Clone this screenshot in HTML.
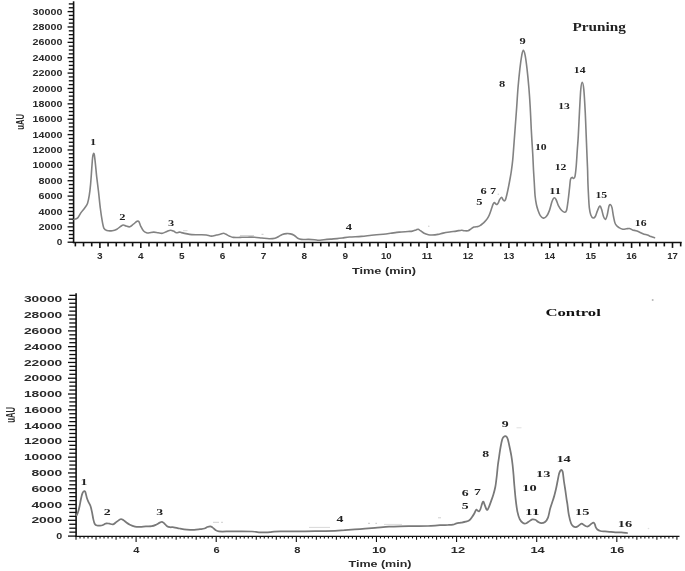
<!DOCTYPE html>
<html><head><meta charset="utf-8"><title>Chromatogram</title>
<style>html,body{margin:0;padding:0;background:#fff;width:685px;height:571px;overflow:hidden}</style>
</head><body>
<svg width="685" height="571" viewBox="0 0 685 571" style="display:block;filter:blur(0.4px)">
<rect width="685" height="571" fill="#fff"/>
<line x1="67.60" y1="242.20" x2="73.60" y2="242.20" stroke="#111" stroke-width="1.35"/>
<line x1="68.80" y1="238.36" x2="73.60" y2="238.36" stroke="#111" stroke-width="1.35"/>
<line x1="68.80" y1="234.51" x2="73.60" y2="234.51" stroke="#111" stroke-width="1.35"/>
<line x1="68.80" y1="230.67" x2="73.60" y2="230.67" stroke="#111" stroke-width="1.35"/>
<line x1="67.60" y1="226.83" x2="73.60" y2="226.83" stroke="#111" stroke-width="1.35"/>
<line x1="68.80" y1="222.98" x2="73.60" y2="222.98" stroke="#111" stroke-width="1.35"/>
<line x1="68.80" y1="219.14" x2="73.60" y2="219.14" stroke="#111" stroke-width="1.35"/>
<line x1="68.80" y1="215.30" x2="73.60" y2="215.30" stroke="#111" stroke-width="1.35"/>
<line x1="67.60" y1="211.45" x2="73.60" y2="211.45" stroke="#111" stroke-width="1.35"/>
<line x1="68.80" y1="207.61" x2="73.60" y2="207.61" stroke="#111" stroke-width="1.35"/>
<line x1="68.80" y1="203.77" x2="73.60" y2="203.77" stroke="#111" stroke-width="1.35"/>
<line x1="68.80" y1="199.92" x2="73.60" y2="199.92" stroke="#111" stroke-width="1.35"/>
<line x1="67.60" y1="196.08" x2="73.60" y2="196.08" stroke="#111" stroke-width="1.35"/>
<line x1="68.80" y1="192.24" x2="73.60" y2="192.24" stroke="#111" stroke-width="1.35"/>
<line x1="68.80" y1="188.39" x2="73.60" y2="188.39" stroke="#111" stroke-width="1.35"/>
<line x1="68.80" y1="184.55" x2="73.60" y2="184.55" stroke="#111" stroke-width="1.35"/>
<line x1="67.60" y1="180.71" x2="73.60" y2="180.71" stroke="#111" stroke-width="1.35"/>
<line x1="68.80" y1="176.86" x2="73.60" y2="176.86" stroke="#111" stroke-width="1.35"/>
<line x1="68.80" y1="173.02" x2="73.60" y2="173.02" stroke="#111" stroke-width="1.35"/>
<line x1="68.80" y1="169.18" x2="73.60" y2="169.18" stroke="#111" stroke-width="1.35"/>
<line x1="67.60" y1="165.33" x2="73.60" y2="165.33" stroke="#111" stroke-width="1.35"/>
<line x1="68.80" y1="161.49" x2="73.60" y2="161.49" stroke="#111" stroke-width="1.35"/>
<line x1="68.80" y1="157.65" x2="73.60" y2="157.65" stroke="#111" stroke-width="1.35"/>
<line x1="68.80" y1="153.80" x2="73.60" y2="153.80" stroke="#111" stroke-width="1.35"/>
<line x1="67.60" y1="149.96" x2="73.60" y2="149.96" stroke="#111" stroke-width="1.35"/>
<line x1="68.80" y1="146.12" x2="73.60" y2="146.12" stroke="#111" stroke-width="1.35"/>
<line x1="68.80" y1="142.27" x2="73.60" y2="142.27" stroke="#111" stroke-width="1.35"/>
<line x1="68.80" y1="138.43" x2="73.60" y2="138.43" stroke="#111" stroke-width="1.35"/>
<line x1="67.60" y1="134.59" x2="73.60" y2="134.59" stroke="#111" stroke-width="1.35"/>
<line x1="68.80" y1="130.74" x2="73.60" y2="130.74" stroke="#111" stroke-width="1.35"/>
<line x1="68.80" y1="126.90" x2="73.60" y2="126.90" stroke="#111" stroke-width="1.35"/>
<line x1="68.80" y1="123.06" x2="73.60" y2="123.06" stroke="#111" stroke-width="1.35"/>
<line x1="67.60" y1="119.21" x2="73.60" y2="119.21" stroke="#111" stroke-width="1.35"/>
<line x1="68.80" y1="115.37" x2="73.60" y2="115.37" stroke="#111" stroke-width="1.35"/>
<line x1="68.80" y1="111.53" x2="73.60" y2="111.53" stroke="#111" stroke-width="1.35"/>
<line x1="68.80" y1="107.68" x2="73.60" y2="107.68" stroke="#111" stroke-width="1.35"/>
<line x1="67.60" y1="103.84" x2="73.60" y2="103.84" stroke="#111" stroke-width="1.35"/>
<line x1="68.80" y1="100.00" x2="73.60" y2="100.00" stroke="#111" stroke-width="1.35"/>
<line x1="68.80" y1="96.15" x2="73.60" y2="96.15" stroke="#111" stroke-width="1.35"/>
<line x1="68.80" y1="92.31" x2="73.60" y2="92.31" stroke="#111" stroke-width="1.35"/>
<line x1="67.60" y1="88.47" x2="73.60" y2="88.47" stroke="#111" stroke-width="1.35"/>
<line x1="68.80" y1="84.62" x2="73.60" y2="84.62" stroke="#111" stroke-width="1.35"/>
<line x1="68.80" y1="80.78" x2="73.60" y2="80.78" stroke="#111" stroke-width="1.35"/>
<line x1="68.80" y1="76.94" x2="73.60" y2="76.94" stroke="#111" stroke-width="1.35"/>
<line x1="67.60" y1="73.09" x2="73.60" y2="73.09" stroke="#111" stroke-width="1.35"/>
<line x1="68.80" y1="69.25" x2="73.60" y2="69.25" stroke="#111" stroke-width="1.35"/>
<line x1="68.80" y1="65.41" x2="73.60" y2="65.41" stroke="#111" stroke-width="1.35"/>
<line x1="68.80" y1="61.56" x2="73.60" y2="61.56" stroke="#111" stroke-width="1.35"/>
<line x1="67.60" y1="57.72" x2="73.60" y2="57.72" stroke="#111" stroke-width="1.35"/>
<line x1="68.80" y1="53.88" x2="73.60" y2="53.88" stroke="#111" stroke-width="1.35"/>
<line x1="68.80" y1="50.03" x2="73.60" y2="50.03" stroke="#111" stroke-width="1.35"/>
<line x1="68.80" y1="46.19" x2="73.60" y2="46.19" stroke="#111" stroke-width="1.35"/>
<line x1="67.60" y1="42.35" x2="73.60" y2="42.35" stroke="#111" stroke-width="1.35"/>
<line x1="68.80" y1="38.50" x2="73.60" y2="38.50" stroke="#111" stroke-width="1.35"/>
<line x1="68.80" y1="34.66" x2="73.60" y2="34.66" stroke="#111" stroke-width="1.35"/>
<line x1="68.80" y1="30.82" x2="73.60" y2="30.82" stroke="#111" stroke-width="1.35"/>
<line x1="67.60" y1="26.97" x2="73.60" y2="26.97" stroke="#111" stroke-width="1.35"/>
<line x1="68.80" y1="23.13" x2="73.60" y2="23.13" stroke="#111" stroke-width="1.35"/>
<line x1="68.80" y1="19.29" x2="73.60" y2="19.29" stroke="#111" stroke-width="1.35"/>
<line x1="68.80" y1="15.44" x2="73.60" y2="15.44" stroke="#111" stroke-width="1.35"/>
<line x1="67.60" y1="11.60" x2="73.60" y2="11.60" stroke="#111" stroke-width="1.35"/>
<line x1="68.80" y1="7.76" x2="73.60" y2="7.76" stroke="#111" stroke-width="1.35"/>
<line x1="68.80" y1="3.91" x2="73.60" y2="3.91" stroke="#111" stroke-width="1.35"/>
<text transform="translate(59.60,245.31) scale(1.0,1)" font-family="Liberation Sans" font-weight="bold" font-size="8.7" fill="#2a2a2a" text-anchor="middle" textLength="5.60" lengthAdjust="spacingAndGlyphs">0</text>
<text transform="translate(50.40,229.94) scale(1.0,1)" font-family="Liberation Sans" font-weight="bold" font-size="8.7" fill="#2a2a2a" text-anchor="middle" textLength="24.00" lengthAdjust="spacingAndGlyphs">2000</text>
<text transform="translate(50.40,214.57) scale(1.0,1)" font-family="Liberation Sans" font-weight="bold" font-size="8.7" fill="#2a2a2a" text-anchor="middle" textLength="24.00" lengthAdjust="spacingAndGlyphs">4000</text>
<text transform="translate(50.40,199.19) scale(1.0,1)" font-family="Liberation Sans" font-weight="bold" font-size="8.7" fill="#2a2a2a" text-anchor="middle" textLength="24.00" lengthAdjust="spacingAndGlyphs">6000</text>
<text transform="translate(50.40,183.82) scale(1.0,1)" font-family="Liberation Sans" font-weight="bold" font-size="8.7" fill="#2a2a2a" text-anchor="middle" textLength="24.00" lengthAdjust="spacingAndGlyphs">8000</text>
<text transform="translate(47.50,168.45) scale(1.0,1)" font-family="Liberation Sans" font-weight="bold" font-size="8.7" fill="#2a2a2a" text-anchor="middle" textLength="29.80" lengthAdjust="spacingAndGlyphs">10000</text>
<text transform="translate(47.50,153.07) scale(1.0,1)" font-family="Liberation Sans" font-weight="bold" font-size="8.7" fill="#2a2a2a" text-anchor="middle" textLength="29.80" lengthAdjust="spacingAndGlyphs">12000</text>
<text transform="translate(47.50,137.70) scale(1.0,1)" font-family="Liberation Sans" font-weight="bold" font-size="8.7" fill="#2a2a2a" text-anchor="middle" textLength="29.80" lengthAdjust="spacingAndGlyphs">14000</text>
<text transform="translate(47.50,122.33) scale(1.0,1)" font-family="Liberation Sans" font-weight="bold" font-size="8.7" fill="#2a2a2a" text-anchor="middle" textLength="29.80" lengthAdjust="spacingAndGlyphs">16000</text>
<text transform="translate(47.50,106.95) scale(1.0,1)" font-family="Liberation Sans" font-weight="bold" font-size="8.7" fill="#2a2a2a" text-anchor="middle" textLength="29.80" lengthAdjust="spacingAndGlyphs">18000</text>
<text transform="translate(47.50,91.58) scale(1.0,1)" font-family="Liberation Sans" font-weight="bold" font-size="8.7" fill="#2a2a2a" text-anchor="middle" textLength="29.80" lengthAdjust="spacingAndGlyphs">20000</text>
<text transform="translate(47.50,76.21) scale(1.0,1)" font-family="Liberation Sans" font-weight="bold" font-size="8.7" fill="#2a2a2a" text-anchor="middle" textLength="29.80" lengthAdjust="spacingAndGlyphs">22000</text>
<text transform="translate(47.50,60.83) scale(1.0,1)" font-family="Liberation Sans" font-weight="bold" font-size="8.7" fill="#2a2a2a" text-anchor="middle" textLength="29.80" lengthAdjust="spacingAndGlyphs">24000</text>
<text transform="translate(47.50,45.46) scale(1.0,1)" font-family="Liberation Sans" font-weight="bold" font-size="8.7" fill="#2a2a2a" text-anchor="middle" textLength="29.80" lengthAdjust="spacingAndGlyphs">26000</text>
<text transform="translate(47.50,30.09) scale(1.0,1)" font-family="Liberation Sans" font-weight="bold" font-size="8.7" fill="#2a2a2a" text-anchor="middle" textLength="29.80" lengthAdjust="spacingAndGlyphs">28000</text>
<text transform="translate(47.50,14.71) scale(1.0,1)" font-family="Liberation Sans" font-weight="bold" font-size="8.7" fill="#2a2a2a" text-anchor="middle" textLength="29.80" lengthAdjust="spacingAndGlyphs">30000</text>
<line x1="75.36" y1="242.50" x2="75.36" y2="246.40" stroke="#111" stroke-width="1.6"/>
<line x1="83.54" y1="242.50" x2="83.54" y2="246.40" stroke="#111" stroke-width="1.6"/>
<line x1="91.72" y1="242.50" x2="91.72" y2="246.40" stroke="#111" stroke-width="1.6"/>
<line x1="99.90" y1="242.50" x2="99.90" y2="247.90" stroke="#111" stroke-width="1.6"/>
<line x1="108.08" y1="242.50" x2="108.08" y2="246.40" stroke="#111" stroke-width="1.6"/>
<line x1="116.26" y1="242.50" x2="116.26" y2="246.40" stroke="#111" stroke-width="1.6"/>
<line x1="124.44" y1="242.50" x2="124.44" y2="246.40" stroke="#111" stroke-width="1.6"/>
<line x1="132.62" y1="242.50" x2="132.62" y2="246.40" stroke="#111" stroke-width="1.6"/>
<line x1="140.80" y1="242.50" x2="140.80" y2="247.90" stroke="#111" stroke-width="1.6"/>
<line x1="148.98" y1="242.50" x2="148.98" y2="246.40" stroke="#111" stroke-width="1.6"/>
<line x1="157.16" y1="242.50" x2="157.16" y2="246.40" stroke="#111" stroke-width="1.6"/>
<line x1="165.34" y1="242.50" x2="165.34" y2="246.40" stroke="#111" stroke-width="1.6"/>
<line x1="173.52" y1="242.50" x2="173.52" y2="246.40" stroke="#111" stroke-width="1.6"/>
<line x1="181.70" y1="242.50" x2="181.70" y2="247.90" stroke="#111" stroke-width="1.6"/>
<line x1="189.88" y1="242.50" x2="189.88" y2="246.40" stroke="#111" stroke-width="1.6"/>
<line x1="198.06" y1="242.50" x2="198.06" y2="246.40" stroke="#111" stroke-width="1.6"/>
<line x1="206.24" y1="242.50" x2="206.24" y2="246.40" stroke="#111" stroke-width="1.6"/>
<line x1="214.42" y1="242.50" x2="214.42" y2="246.40" stroke="#111" stroke-width="1.6"/>
<line x1="222.60" y1="242.50" x2="222.60" y2="247.90" stroke="#111" stroke-width="1.6"/>
<line x1="230.78" y1="242.50" x2="230.78" y2="246.40" stroke="#111" stroke-width="1.6"/>
<line x1="238.96" y1="242.50" x2="238.96" y2="246.40" stroke="#111" stroke-width="1.6"/>
<line x1="247.14" y1="242.50" x2="247.14" y2="246.40" stroke="#111" stroke-width="1.6"/>
<line x1="255.32" y1="242.50" x2="255.32" y2="246.40" stroke="#111" stroke-width="1.6"/>
<line x1="263.50" y1="242.50" x2="263.50" y2="247.90" stroke="#111" stroke-width="1.6"/>
<line x1="271.68" y1="242.50" x2="271.68" y2="246.40" stroke="#111" stroke-width="1.6"/>
<line x1="279.86" y1="242.50" x2="279.86" y2="246.40" stroke="#111" stroke-width="1.6"/>
<line x1="288.04" y1="242.50" x2="288.04" y2="246.40" stroke="#111" stroke-width="1.6"/>
<line x1="296.22" y1="242.50" x2="296.22" y2="246.40" stroke="#111" stroke-width="1.6"/>
<line x1="304.40" y1="242.50" x2="304.40" y2="247.90" stroke="#111" stroke-width="1.6"/>
<line x1="312.58" y1="242.50" x2="312.58" y2="246.40" stroke="#111" stroke-width="1.6"/>
<line x1="320.76" y1="242.50" x2="320.76" y2="246.40" stroke="#111" stroke-width="1.6"/>
<line x1="328.94" y1="242.50" x2="328.94" y2="246.40" stroke="#111" stroke-width="1.6"/>
<line x1="337.12" y1="242.50" x2="337.12" y2="246.40" stroke="#111" stroke-width="1.6"/>
<line x1="345.30" y1="242.50" x2="345.30" y2="247.90" stroke="#111" stroke-width="1.6"/>
<line x1="353.48" y1="242.50" x2="353.48" y2="246.40" stroke="#111" stroke-width="1.6"/>
<line x1="361.66" y1="242.50" x2="361.66" y2="246.40" stroke="#111" stroke-width="1.6"/>
<line x1="369.84" y1="242.50" x2="369.84" y2="246.40" stroke="#111" stroke-width="1.6"/>
<line x1="378.02" y1="242.50" x2="378.02" y2="246.40" stroke="#111" stroke-width="1.6"/>
<line x1="386.20" y1="242.50" x2="386.20" y2="247.90" stroke="#111" stroke-width="1.6"/>
<line x1="394.38" y1="242.50" x2="394.38" y2="246.40" stroke="#111" stroke-width="1.6"/>
<line x1="402.56" y1="242.50" x2="402.56" y2="246.40" stroke="#111" stroke-width="1.6"/>
<line x1="410.74" y1="242.50" x2="410.74" y2="246.40" stroke="#111" stroke-width="1.6"/>
<line x1="418.92" y1="242.50" x2="418.92" y2="246.40" stroke="#111" stroke-width="1.6"/>
<line x1="427.10" y1="242.50" x2="427.10" y2="247.90" stroke="#111" stroke-width="1.6"/>
<line x1="435.28" y1="242.50" x2="435.28" y2="246.40" stroke="#111" stroke-width="1.6"/>
<line x1="443.46" y1="242.50" x2="443.46" y2="246.40" stroke="#111" stroke-width="1.6"/>
<line x1="451.64" y1="242.50" x2="451.64" y2="246.40" stroke="#111" stroke-width="1.6"/>
<line x1="459.82" y1="242.50" x2="459.82" y2="246.40" stroke="#111" stroke-width="1.6"/>
<line x1="468.00" y1="242.50" x2="468.00" y2="247.90" stroke="#111" stroke-width="1.6"/>
<line x1="476.18" y1="242.50" x2="476.18" y2="246.40" stroke="#111" stroke-width="1.6"/>
<line x1="484.36" y1="242.50" x2="484.36" y2="246.40" stroke="#111" stroke-width="1.6"/>
<line x1="492.54" y1="242.50" x2="492.54" y2="246.40" stroke="#111" stroke-width="1.6"/>
<line x1="500.72" y1="242.50" x2="500.72" y2="246.40" stroke="#111" stroke-width="1.6"/>
<line x1="508.90" y1="242.50" x2="508.90" y2="247.90" stroke="#111" stroke-width="1.6"/>
<line x1="517.08" y1="242.50" x2="517.08" y2="246.40" stroke="#111" stroke-width="1.6"/>
<line x1="525.26" y1="242.50" x2="525.26" y2="246.40" stroke="#111" stroke-width="1.6"/>
<line x1="533.44" y1="242.50" x2="533.44" y2="246.40" stroke="#111" stroke-width="1.6"/>
<line x1="541.62" y1="242.50" x2="541.62" y2="246.40" stroke="#111" stroke-width="1.6"/>
<line x1="549.80" y1="242.50" x2="549.80" y2="247.90" stroke="#111" stroke-width="1.6"/>
<line x1="557.98" y1="242.50" x2="557.98" y2="246.40" stroke="#111" stroke-width="1.6"/>
<line x1="566.16" y1="242.50" x2="566.16" y2="246.40" stroke="#111" stroke-width="1.6"/>
<line x1="574.34" y1="242.50" x2="574.34" y2="246.40" stroke="#111" stroke-width="1.6"/>
<line x1="582.52" y1="242.50" x2="582.52" y2="246.40" stroke="#111" stroke-width="1.6"/>
<line x1="590.70" y1="242.50" x2="590.70" y2="247.90" stroke="#111" stroke-width="1.6"/>
<line x1="598.88" y1="242.50" x2="598.88" y2="246.40" stroke="#111" stroke-width="1.6"/>
<line x1="607.06" y1="242.50" x2="607.06" y2="246.40" stroke="#111" stroke-width="1.6"/>
<line x1="615.24" y1="242.50" x2="615.24" y2="246.40" stroke="#111" stroke-width="1.6"/>
<line x1="623.42" y1="242.50" x2="623.42" y2="246.40" stroke="#111" stroke-width="1.6"/>
<line x1="631.60" y1="242.50" x2="631.60" y2="247.90" stroke="#111" stroke-width="1.6"/>
<line x1="639.78" y1="242.50" x2="639.78" y2="246.40" stroke="#111" stroke-width="1.6"/>
<line x1="647.96" y1="242.50" x2="647.96" y2="246.40" stroke="#111" stroke-width="1.6"/>
<line x1="656.14" y1="242.50" x2="656.14" y2="246.40" stroke="#111" stroke-width="1.6"/>
<line x1="664.32" y1="242.50" x2="664.32" y2="246.40" stroke="#111" stroke-width="1.6"/>
<line x1="672.50" y1="242.50" x2="672.50" y2="247.90" stroke="#111" stroke-width="1.6"/>
<line x1="680.68" y1="242.50" x2="680.68" y2="246.40" stroke="#111" stroke-width="1.6"/>
<text transform="translate(99.90,258.51) scale(1.0,1)" font-family="Liberation Sans" font-weight="bold" font-size="8.4" fill="#2a2a2a" text-anchor="middle" textLength="5.60" lengthAdjust="spacingAndGlyphs">3</text>
<text transform="translate(140.80,258.51) scale(1.0,1)" font-family="Liberation Sans" font-weight="bold" font-size="8.4" fill="#2a2a2a" text-anchor="middle" textLength="5.60" lengthAdjust="spacingAndGlyphs">4</text>
<text transform="translate(181.70,258.51) scale(1.0,1)" font-family="Liberation Sans" font-weight="bold" font-size="8.4" fill="#2a2a2a" text-anchor="middle" textLength="5.60" lengthAdjust="spacingAndGlyphs">5</text>
<text transform="translate(222.60,258.51) scale(1.0,1)" font-family="Liberation Sans" font-weight="bold" font-size="8.4" fill="#2a2a2a" text-anchor="middle" textLength="5.60" lengthAdjust="spacingAndGlyphs">6</text>
<text transform="translate(263.50,258.51) scale(1.0,1)" font-family="Liberation Sans" font-weight="bold" font-size="8.4" fill="#2a2a2a" text-anchor="middle" textLength="5.60" lengthAdjust="spacingAndGlyphs">7</text>
<text transform="translate(304.40,258.51) scale(1.0,1)" font-family="Liberation Sans" font-weight="bold" font-size="8.4" fill="#2a2a2a" text-anchor="middle" textLength="5.60" lengthAdjust="spacingAndGlyphs">8</text>
<text transform="translate(345.30,258.51) scale(1.0,1)" font-family="Liberation Sans" font-weight="bold" font-size="8.4" fill="#2a2a2a" text-anchor="middle" textLength="5.60" lengthAdjust="spacingAndGlyphs">9</text>
<text transform="translate(386.20,258.51) scale(1.0,1)" font-family="Liberation Sans" font-weight="bold" font-size="8.4" fill="#2a2a2a" text-anchor="middle" textLength="10.60" lengthAdjust="spacingAndGlyphs">10</text>
<text transform="translate(427.10,258.51) scale(1.0,1)" font-family="Liberation Sans" font-weight="bold" font-size="8.4" fill="#2a2a2a" text-anchor="middle" textLength="10.60" lengthAdjust="spacingAndGlyphs">11</text>
<text transform="translate(468.00,258.51) scale(1.0,1)" font-family="Liberation Sans" font-weight="bold" font-size="8.4" fill="#2a2a2a" text-anchor="middle" textLength="10.60" lengthAdjust="spacingAndGlyphs">12</text>
<text transform="translate(508.90,258.51) scale(1.0,1)" font-family="Liberation Sans" font-weight="bold" font-size="8.4" fill="#2a2a2a" text-anchor="middle" textLength="10.60" lengthAdjust="spacingAndGlyphs">13</text>
<text transform="translate(549.80,258.51) scale(1.0,1)" font-family="Liberation Sans" font-weight="bold" font-size="8.4" fill="#2a2a2a" text-anchor="middle" textLength="10.60" lengthAdjust="spacingAndGlyphs">14</text>
<text transform="translate(590.70,258.51) scale(1.0,1)" font-family="Liberation Sans" font-weight="bold" font-size="8.4" fill="#2a2a2a" text-anchor="middle" textLength="10.60" lengthAdjust="spacingAndGlyphs">15</text>
<text transform="translate(631.60,258.51) scale(1.0,1)" font-family="Liberation Sans" font-weight="bold" font-size="8.4" fill="#2a2a2a" text-anchor="middle" textLength="10.60" lengthAdjust="spacingAndGlyphs">16</text>
<text transform="translate(672.50,258.51) scale(1.0,1)" font-family="Liberation Sans" font-weight="bold" font-size="8.4" fill="#2a2a2a" text-anchor="middle" textLength="10.60" lengthAdjust="spacingAndGlyphs">17</text>
<line x1="73.60" y1="1.30" x2="73.60" y2="243.10" stroke="#111" stroke-width="1.6"/>
<line x1="72.80" y1="242.50" x2="681.70" y2="242.50" stroke="#111" stroke-width="1.4"/>
<line x1="68.00" y1="536.10" x2="76.10" y2="536.10" stroke="#111" stroke-width="1.3"/>
<line x1="69.30" y1="532.15" x2="76.10" y2="532.15" stroke="#111" stroke-width="1.3"/>
<line x1="69.30" y1="528.21" x2="76.10" y2="528.21" stroke="#111" stroke-width="1.3"/>
<line x1="69.30" y1="524.26" x2="76.10" y2="524.26" stroke="#111" stroke-width="1.3"/>
<line x1="68.00" y1="520.31" x2="76.10" y2="520.31" stroke="#111" stroke-width="1.3"/>
<line x1="69.30" y1="516.37" x2="76.10" y2="516.37" stroke="#111" stroke-width="1.3"/>
<line x1="69.30" y1="512.42" x2="76.10" y2="512.42" stroke="#111" stroke-width="1.3"/>
<line x1="69.30" y1="508.47" x2="76.10" y2="508.47" stroke="#111" stroke-width="1.3"/>
<line x1="68.00" y1="504.53" x2="76.10" y2="504.53" stroke="#111" stroke-width="1.3"/>
<line x1="69.30" y1="500.58" x2="76.10" y2="500.58" stroke="#111" stroke-width="1.3"/>
<line x1="69.30" y1="496.63" x2="76.10" y2="496.63" stroke="#111" stroke-width="1.3"/>
<line x1="69.30" y1="492.69" x2="76.10" y2="492.69" stroke="#111" stroke-width="1.3"/>
<line x1="68.00" y1="488.74" x2="76.10" y2="488.74" stroke="#111" stroke-width="1.3"/>
<line x1="69.30" y1="484.79" x2="76.10" y2="484.79" stroke="#111" stroke-width="1.3"/>
<line x1="69.30" y1="480.85" x2="76.10" y2="480.85" stroke="#111" stroke-width="1.3"/>
<line x1="69.30" y1="476.90" x2="76.10" y2="476.90" stroke="#111" stroke-width="1.3"/>
<line x1="68.00" y1="472.95" x2="76.10" y2="472.95" stroke="#111" stroke-width="1.3"/>
<line x1="69.30" y1="469.01" x2="76.10" y2="469.01" stroke="#111" stroke-width="1.3"/>
<line x1="69.30" y1="465.06" x2="76.10" y2="465.06" stroke="#111" stroke-width="1.3"/>
<line x1="69.30" y1="461.11" x2="76.10" y2="461.11" stroke="#111" stroke-width="1.3"/>
<line x1="68.00" y1="457.17" x2="76.10" y2="457.17" stroke="#111" stroke-width="1.3"/>
<line x1="69.30" y1="453.22" x2="76.10" y2="453.22" stroke="#111" stroke-width="1.3"/>
<line x1="69.30" y1="449.27" x2="76.10" y2="449.27" stroke="#111" stroke-width="1.3"/>
<line x1="69.30" y1="445.33" x2="76.10" y2="445.33" stroke="#111" stroke-width="1.3"/>
<line x1="68.00" y1="441.38" x2="76.10" y2="441.38" stroke="#111" stroke-width="1.3"/>
<line x1="69.30" y1="437.43" x2="76.10" y2="437.43" stroke="#111" stroke-width="1.3"/>
<line x1="69.30" y1="433.49" x2="76.10" y2="433.49" stroke="#111" stroke-width="1.3"/>
<line x1="69.30" y1="429.54" x2="76.10" y2="429.54" stroke="#111" stroke-width="1.3"/>
<line x1="68.00" y1="425.59" x2="76.10" y2="425.59" stroke="#111" stroke-width="1.3"/>
<line x1="69.30" y1="421.65" x2="76.10" y2="421.65" stroke="#111" stroke-width="1.3"/>
<line x1="69.30" y1="417.70" x2="76.10" y2="417.70" stroke="#111" stroke-width="1.3"/>
<line x1="69.30" y1="413.75" x2="76.10" y2="413.75" stroke="#111" stroke-width="1.3"/>
<line x1="68.00" y1="409.81" x2="76.10" y2="409.81" stroke="#111" stroke-width="1.3"/>
<line x1="69.30" y1="405.86" x2="76.10" y2="405.86" stroke="#111" stroke-width="1.3"/>
<line x1="69.30" y1="401.91" x2="76.10" y2="401.91" stroke="#111" stroke-width="1.3"/>
<line x1="69.30" y1="397.97" x2="76.10" y2="397.97" stroke="#111" stroke-width="1.3"/>
<line x1="68.00" y1="394.02" x2="76.10" y2="394.02" stroke="#111" stroke-width="1.3"/>
<line x1="69.30" y1="390.07" x2="76.10" y2="390.07" stroke="#111" stroke-width="1.3"/>
<line x1="69.30" y1="386.13" x2="76.10" y2="386.13" stroke="#111" stroke-width="1.3"/>
<line x1="69.30" y1="382.18" x2="76.10" y2="382.18" stroke="#111" stroke-width="1.3"/>
<line x1="68.00" y1="378.23" x2="76.10" y2="378.23" stroke="#111" stroke-width="1.3"/>
<line x1="69.30" y1="374.29" x2="76.10" y2="374.29" stroke="#111" stroke-width="1.3"/>
<line x1="69.30" y1="370.34" x2="76.10" y2="370.34" stroke="#111" stroke-width="1.3"/>
<line x1="69.30" y1="366.39" x2="76.10" y2="366.39" stroke="#111" stroke-width="1.3"/>
<line x1="68.00" y1="362.45" x2="76.10" y2="362.45" stroke="#111" stroke-width="1.3"/>
<line x1="69.30" y1="358.50" x2="76.10" y2="358.50" stroke="#111" stroke-width="1.3"/>
<line x1="69.30" y1="354.55" x2="76.10" y2="354.55" stroke="#111" stroke-width="1.3"/>
<line x1="69.30" y1="350.61" x2="76.10" y2="350.61" stroke="#111" stroke-width="1.3"/>
<line x1="68.00" y1="346.66" x2="76.10" y2="346.66" stroke="#111" stroke-width="1.3"/>
<line x1="69.30" y1="342.71" x2="76.10" y2="342.71" stroke="#111" stroke-width="1.3"/>
<line x1="69.30" y1="338.77" x2="76.10" y2="338.77" stroke="#111" stroke-width="1.3"/>
<line x1="69.30" y1="334.82" x2="76.10" y2="334.82" stroke="#111" stroke-width="1.3"/>
<line x1="68.00" y1="330.87" x2="76.10" y2="330.87" stroke="#111" stroke-width="1.3"/>
<line x1="69.30" y1="326.93" x2="76.10" y2="326.93" stroke="#111" stroke-width="1.3"/>
<line x1="69.30" y1="322.98" x2="76.10" y2="322.98" stroke="#111" stroke-width="1.3"/>
<line x1="69.30" y1="319.03" x2="76.10" y2="319.03" stroke="#111" stroke-width="1.3"/>
<line x1="68.00" y1="315.09" x2="76.10" y2="315.09" stroke="#111" stroke-width="1.3"/>
<line x1="69.30" y1="311.14" x2="76.10" y2="311.14" stroke="#111" stroke-width="1.3"/>
<line x1="69.30" y1="307.19" x2="76.10" y2="307.19" stroke="#111" stroke-width="1.3"/>
<line x1="69.30" y1="303.25" x2="76.10" y2="303.25" stroke="#111" stroke-width="1.3"/>
<line x1="68.00" y1="299.30" x2="76.10" y2="299.30" stroke="#111" stroke-width="1.3"/>
<line x1="69.30" y1="295.35" x2="76.10" y2="295.35" stroke="#111" stroke-width="1.3"/>
<text transform="translate(59.20,539.21) scale(1.0,1)" font-family="Liberation Sans" font-weight="bold" font-size="8.7" fill="#2a2a2a" text-anchor="middle" textLength="6.00" lengthAdjust="spacingAndGlyphs">0</text>
<text transform="translate(46.80,523.43) scale(1.0,1)" font-family="Liberation Sans" font-weight="bold" font-size="8.7" fill="#2a2a2a" text-anchor="middle" textLength="30.80" lengthAdjust="spacingAndGlyphs">2000</text>
<text transform="translate(46.80,507.64) scale(1.0,1)" font-family="Liberation Sans" font-weight="bold" font-size="8.7" fill="#2a2a2a" text-anchor="middle" textLength="30.80" lengthAdjust="spacingAndGlyphs">4000</text>
<text transform="translate(46.80,491.85) scale(1.0,1)" font-family="Liberation Sans" font-weight="bold" font-size="8.7" fill="#2a2a2a" text-anchor="middle" textLength="30.80" lengthAdjust="spacingAndGlyphs">6000</text>
<text transform="translate(46.80,476.07) scale(1.0,1)" font-family="Liberation Sans" font-weight="bold" font-size="8.7" fill="#2a2a2a" text-anchor="middle" textLength="30.80" lengthAdjust="spacingAndGlyphs">8000</text>
<text transform="translate(43.05,460.28) scale(1.0,1)" font-family="Liberation Sans" font-weight="bold" font-size="8.7" fill="#2a2a2a" text-anchor="middle" textLength="38.30" lengthAdjust="spacingAndGlyphs">10000</text>
<text transform="translate(43.05,444.49) scale(1.0,1)" font-family="Liberation Sans" font-weight="bold" font-size="8.7" fill="#2a2a2a" text-anchor="middle" textLength="38.30" lengthAdjust="spacingAndGlyphs">12000</text>
<text transform="translate(43.05,428.71) scale(1.0,1)" font-family="Liberation Sans" font-weight="bold" font-size="8.7" fill="#2a2a2a" text-anchor="middle" textLength="38.30" lengthAdjust="spacingAndGlyphs">14000</text>
<text transform="translate(43.05,412.92) scale(1.0,1)" font-family="Liberation Sans" font-weight="bold" font-size="8.7" fill="#2a2a2a" text-anchor="middle" textLength="38.30" lengthAdjust="spacingAndGlyphs">16000</text>
<text transform="translate(43.05,397.13) scale(1.0,1)" font-family="Liberation Sans" font-weight="bold" font-size="8.7" fill="#2a2a2a" text-anchor="middle" textLength="38.30" lengthAdjust="spacingAndGlyphs">18000</text>
<text transform="translate(43.05,381.35) scale(1.0,1)" font-family="Liberation Sans" font-weight="bold" font-size="8.7" fill="#2a2a2a" text-anchor="middle" textLength="38.30" lengthAdjust="spacingAndGlyphs">20000</text>
<text transform="translate(43.05,365.56) scale(1.0,1)" font-family="Liberation Sans" font-weight="bold" font-size="8.7" fill="#2a2a2a" text-anchor="middle" textLength="38.30" lengthAdjust="spacingAndGlyphs">22000</text>
<text transform="translate(43.05,349.77) scale(1.0,1)" font-family="Liberation Sans" font-weight="bold" font-size="8.7" fill="#2a2a2a" text-anchor="middle" textLength="38.30" lengthAdjust="spacingAndGlyphs">24000</text>
<text transform="translate(43.05,333.99) scale(1.0,1)" font-family="Liberation Sans" font-weight="bold" font-size="8.7" fill="#2a2a2a" text-anchor="middle" textLength="38.30" lengthAdjust="spacingAndGlyphs">26000</text>
<text transform="translate(43.05,318.20) scale(1.0,1)" font-family="Liberation Sans" font-weight="bold" font-size="8.7" fill="#2a2a2a" text-anchor="middle" textLength="38.30" lengthAdjust="spacingAndGlyphs">28000</text>
<text transform="translate(43.05,302.41) scale(1.0,1)" font-family="Liberation Sans" font-weight="bold" font-size="8.7" fill="#2a2a2a" text-anchor="middle" textLength="38.30" lengthAdjust="spacingAndGlyphs">30000</text>
<line x1="76.01" y1="536.40" x2="76.01" y2="539.80" stroke="#111" stroke-width="1.1"/>
<line x1="80.02" y1="536.40" x2="80.02" y2="538.40" stroke="#111" stroke-width="1.1"/>
<line x1="84.02" y1="536.40" x2="84.02" y2="538.40" stroke="#111" stroke-width="1.1"/>
<line x1="88.03" y1="536.40" x2="88.03" y2="538.40" stroke="#111" stroke-width="1.1"/>
<line x1="92.03" y1="536.40" x2="92.03" y2="538.40" stroke="#111" stroke-width="1.1"/>
<line x1="96.04" y1="536.40" x2="96.04" y2="539.80" stroke="#111" stroke-width="1.1"/>
<line x1="100.05" y1="536.40" x2="100.05" y2="538.40" stroke="#111" stroke-width="1.1"/>
<line x1="104.05" y1="536.40" x2="104.05" y2="538.40" stroke="#111" stroke-width="1.1"/>
<line x1="108.06" y1="536.40" x2="108.06" y2="538.40" stroke="#111" stroke-width="1.1"/>
<line x1="112.06" y1="536.40" x2="112.06" y2="538.40" stroke="#111" stroke-width="1.1"/>
<line x1="116.07" y1="536.40" x2="116.07" y2="539.80" stroke="#111" stroke-width="1.1"/>
<line x1="120.08" y1="536.40" x2="120.08" y2="538.40" stroke="#111" stroke-width="1.1"/>
<line x1="124.08" y1="536.40" x2="124.08" y2="538.40" stroke="#111" stroke-width="1.1"/>
<line x1="128.09" y1="536.40" x2="128.09" y2="538.40" stroke="#111" stroke-width="1.1"/>
<line x1="132.09" y1="536.40" x2="132.09" y2="538.40" stroke="#111" stroke-width="1.1"/>
<line x1="136.10" y1="536.40" x2="136.10" y2="542.00" stroke="#111" stroke-width="1.1"/>
<line x1="140.11" y1="536.40" x2="140.11" y2="538.40" stroke="#111" stroke-width="1.1"/>
<line x1="144.11" y1="536.40" x2="144.11" y2="538.40" stroke="#111" stroke-width="1.1"/>
<line x1="148.12" y1="536.40" x2="148.12" y2="538.40" stroke="#111" stroke-width="1.1"/>
<line x1="152.12" y1="536.40" x2="152.12" y2="538.40" stroke="#111" stroke-width="1.1"/>
<line x1="156.13" y1="536.40" x2="156.13" y2="539.80" stroke="#111" stroke-width="1.1"/>
<line x1="160.14" y1="536.40" x2="160.14" y2="538.40" stroke="#111" stroke-width="1.1"/>
<line x1="164.14" y1="536.40" x2="164.14" y2="538.40" stroke="#111" stroke-width="1.1"/>
<line x1="168.15" y1="536.40" x2="168.15" y2="538.40" stroke="#111" stroke-width="1.1"/>
<line x1="172.15" y1="536.40" x2="172.15" y2="538.40" stroke="#111" stroke-width="1.1"/>
<line x1="176.16" y1="536.40" x2="176.16" y2="539.80" stroke="#111" stroke-width="1.1"/>
<line x1="180.17" y1="536.40" x2="180.17" y2="538.40" stroke="#111" stroke-width="1.1"/>
<line x1="184.17" y1="536.40" x2="184.17" y2="538.40" stroke="#111" stroke-width="1.1"/>
<line x1="188.18" y1="536.40" x2="188.18" y2="538.40" stroke="#111" stroke-width="1.1"/>
<line x1="192.18" y1="536.40" x2="192.18" y2="538.40" stroke="#111" stroke-width="1.1"/>
<line x1="196.19" y1="536.40" x2="196.19" y2="539.80" stroke="#111" stroke-width="1.1"/>
<line x1="200.20" y1="536.40" x2="200.20" y2="538.40" stroke="#111" stroke-width="1.1"/>
<line x1="204.20" y1="536.40" x2="204.20" y2="538.40" stroke="#111" stroke-width="1.1"/>
<line x1="208.21" y1="536.40" x2="208.21" y2="538.40" stroke="#111" stroke-width="1.1"/>
<line x1="212.21" y1="536.40" x2="212.21" y2="538.40" stroke="#111" stroke-width="1.1"/>
<line x1="216.22" y1="536.40" x2="216.22" y2="542.00" stroke="#111" stroke-width="1.1"/>
<line x1="220.23" y1="536.40" x2="220.23" y2="538.40" stroke="#111" stroke-width="1.1"/>
<line x1="224.23" y1="536.40" x2="224.23" y2="538.40" stroke="#111" stroke-width="1.1"/>
<line x1="228.24" y1="536.40" x2="228.24" y2="538.40" stroke="#111" stroke-width="1.1"/>
<line x1="232.24" y1="536.40" x2="232.24" y2="538.40" stroke="#111" stroke-width="1.1"/>
<line x1="236.25" y1="536.40" x2="236.25" y2="539.80" stroke="#111" stroke-width="1.1"/>
<line x1="240.26" y1="536.40" x2="240.26" y2="538.40" stroke="#111" stroke-width="1.1"/>
<line x1="244.26" y1="536.40" x2="244.26" y2="538.40" stroke="#111" stroke-width="1.1"/>
<line x1="248.27" y1="536.40" x2="248.27" y2="538.40" stroke="#111" stroke-width="1.1"/>
<line x1="252.27" y1="536.40" x2="252.27" y2="538.40" stroke="#111" stroke-width="1.1"/>
<line x1="256.28" y1="536.40" x2="256.28" y2="539.80" stroke="#111" stroke-width="1.1"/>
<line x1="260.29" y1="536.40" x2="260.29" y2="538.40" stroke="#111" stroke-width="1.1"/>
<line x1="264.29" y1="536.40" x2="264.29" y2="538.40" stroke="#111" stroke-width="1.1"/>
<line x1="268.30" y1="536.40" x2="268.30" y2="538.40" stroke="#111" stroke-width="1.1"/>
<line x1="272.30" y1="536.40" x2="272.30" y2="538.40" stroke="#111" stroke-width="1.1"/>
<line x1="276.31" y1="536.40" x2="276.31" y2="539.80" stroke="#111" stroke-width="1.1"/>
<line x1="280.32" y1="536.40" x2="280.32" y2="538.40" stroke="#111" stroke-width="1.1"/>
<line x1="284.32" y1="536.40" x2="284.32" y2="538.40" stroke="#111" stroke-width="1.1"/>
<line x1="288.33" y1="536.40" x2="288.33" y2="538.40" stroke="#111" stroke-width="1.1"/>
<line x1="292.33" y1="536.40" x2="292.33" y2="538.40" stroke="#111" stroke-width="1.1"/>
<line x1="296.34" y1="536.40" x2="296.34" y2="542.00" stroke="#111" stroke-width="1.1"/>
<line x1="300.35" y1="536.40" x2="300.35" y2="538.40" stroke="#111" stroke-width="1.1"/>
<line x1="304.35" y1="536.40" x2="304.35" y2="538.40" stroke="#111" stroke-width="1.1"/>
<line x1="308.36" y1="536.40" x2="308.36" y2="538.40" stroke="#111" stroke-width="1.1"/>
<line x1="312.36" y1="536.40" x2="312.36" y2="538.40" stroke="#111" stroke-width="1.1"/>
<line x1="316.37" y1="536.40" x2="316.37" y2="539.80" stroke="#111" stroke-width="1.1"/>
<line x1="320.38" y1="536.40" x2="320.38" y2="538.40" stroke="#111" stroke-width="1.1"/>
<line x1="324.38" y1="536.40" x2="324.38" y2="538.40" stroke="#111" stroke-width="1.1"/>
<line x1="328.39" y1="536.40" x2="328.39" y2="538.40" stroke="#111" stroke-width="1.1"/>
<line x1="332.39" y1="536.40" x2="332.39" y2="538.40" stroke="#111" stroke-width="1.1"/>
<line x1="336.40" y1="536.40" x2="336.40" y2="539.80" stroke="#111" stroke-width="1.1"/>
<line x1="340.41" y1="536.40" x2="340.41" y2="538.40" stroke="#111" stroke-width="1.1"/>
<line x1="344.41" y1="536.40" x2="344.41" y2="538.40" stroke="#111" stroke-width="1.1"/>
<line x1="348.42" y1="536.40" x2="348.42" y2="538.40" stroke="#111" stroke-width="1.1"/>
<line x1="352.42" y1="536.40" x2="352.42" y2="538.40" stroke="#111" stroke-width="1.1"/>
<line x1="356.43" y1="536.40" x2="356.43" y2="539.80" stroke="#111" stroke-width="1.1"/>
<line x1="360.44" y1="536.40" x2="360.44" y2="538.40" stroke="#111" stroke-width="1.1"/>
<line x1="364.44" y1="536.40" x2="364.44" y2="538.40" stroke="#111" stroke-width="1.1"/>
<line x1="368.45" y1="536.40" x2="368.45" y2="538.40" stroke="#111" stroke-width="1.1"/>
<line x1="372.45" y1="536.40" x2="372.45" y2="538.40" stroke="#111" stroke-width="1.1"/>
<line x1="376.46" y1="536.40" x2="376.46" y2="542.00" stroke="#111" stroke-width="1.1"/>
<line x1="380.47" y1="536.40" x2="380.47" y2="538.40" stroke="#111" stroke-width="1.1"/>
<line x1="384.47" y1="536.40" x2="384.47" y2="538.40" stroke="#111" stroke-width="1.1"/>
<line x1="388.48" y1="536.40" x2="388.48" y2="538.40" stroke="#111" stroke-width="1.1"/>
<line x1="392.48" y1="536.40" x2="392.48" y2="538.40" stroke="#111" stroke-width="1.1"/>
<line x1="396.49" y1="536.40" x2="396.49" y2="539.80" stroke="#111" stroke-width="1.1"/>
<line x1="400.50" y1="536.40" x2="400.50" y2="538.40" stroke="#111" stroke-width="1.1"/>
<line x1="404.50" y1="536.40" x2="404.50" y2="538.40" stroke="#111" stroke-width="1.1"/>
<line x1="408.51" y1="536.40" x2="408.51" y2="538.40" stroke="#111" stroke-width="1.1"/>
<line x1="412.51" y1="536.40" x2="412.51" y2="538.40" stroke="#111" stroke-width="1.1"/>
<line x1="416.52" y1="536.40" x2="416.52" y2="539.80" stroke="#111" stroke-width="1.1"/>
<line x1="420.53" y1="536.40" x2="420.53" y2="538.40" stroke="#111" stroke-width="1.1"/>
<line x1="424.53" y1="536.40" x2="424.53" y2="538.40" stroke="#111" stroke-width="1.1"/>
<line x1="428.54" y1="536.40" x2="428.54" y2="538.40" stroke="#111" stroke-width="1.1"/>
<line x1="432.54" y1="536.40" x2="432.54" y2="538.40" stroke="#111" stroke-width="1.1"/>
<line x1="436.55" y1="536.40" x2="436.55" y2="539.80" stroke="#111" stroke-width="1.1"/>
<line x1="440.56" y1="536.40" x2="440.56" y2="538.40" stroke="#111" stroke-width="1.1"/>
<line x1="444.56" y1="536.40" x2="444.56" y2="538.40" stroke="#111" stroke-width="1.1"/>
<line x1="448.57" y1="536.40" x2="448.57" y2="538.40" stroke="#111" stroke-width="1.1"/>
<line x1="452.57" y1="536.40" x2="452.57" y2="538.40" stroke="#111" stroke-width="1.1"/>
<line x1="456.58" y1="536.40" x2="456.58" y2="542.00" stroke="#111" stroke-width="1.1"/>
<line x1="460.59" y1="536.40" x2="460.59" y2="538.40" stroke="#111" stroke-width="1.1"/>
<line x1="464.59" y1="536.40" x2="464.59" y2="538.40" stroke="#111" stroke-width="1.1"/>
<line x1="468.60" y1="536.40" x2="468.60" y2="538.40" stroke="#111" stroke-width="1.1"/>
<line x1="472.60" y1="536.40" x2="472.60" y2="538.40" stroke="#111" stroke-width="1.1"/>
<line x1="476.61" y1="536.40" x2="476.61" y2="539.80" stroke="#111" stroke-width="1.1"/>
<line x1="480.62" y1="536.40" x2="480.62" y2="538.40" stroke="#111" stroke-width="1.1"/>
<line x1="484.62" y1="536.40" x2="484.62" y2="538.40" stroke="#111" stroke-width="1.1"/>
<line x1="488.63" y1="536.40" x2="488.63" y2="538.40" stroke="#111" stroke-width="1.1"/>
<line x1="492.63" y1="536.40" x2="492.63" y2="538.40" stroke="#111" stroke-width="1.1"/>
<line x1="496.64" y1="536.40" x2="496.64" y2="539.80" stroke="#111" stroke-width="1.1"/>
<line x1="500.65" y1="536.40" x2="500.65" y2="538.40" stroke="#111" stroke-width="1.1"/>
<line x1="504.65" y1="536.40" x2="504.65" y2="538.40" stroke="#111" stroke-width="1.1"/>
<line x1="508.66" y1="536.40" x2="508.66" y2="538.40" stroke="#111" stroke-width="1.1"/>
<line x1="512.66" y1="536.40" x2="512.66" y2="538.40" stroke="#111" stroke-width="1.1"/>
<line x1="516.67" y1="536.40" x2="516.67" y2="539.80" stroke="#111" stroke-width="1.1"/>
<line x1="520.68" y1="536.40" x2="520.68" y2="538.40" stroke="#111" stroke-width="1.1"/>
<line x1="524.68" y1="536.40" x2="524.68" y2="538.40" stroke="#111" stroke-width="1.1"/>
<line x1="528.69" y1="536.40" x2="528.69" y2="538.40" stroke="#111" stroke-width="1.1"/>
<line x1="532.69" y1="536.40" x2="532.69" y2="538.40" stroke="#111" stroke-width="1.1"/>
<line x1="536.70" y1="536.40" x2="536.70" y2="542.00" stroke="#111" stroke-width="1.1"/>
<line x1="540.71" y1="536.40" x2="540.71" y2="538.40" stroke="#111" stroke-width="1.1"/>
<line x1="544.71" y1="536.40" x2="544.71" y2="538.40" stroke="#111" stroke-width="1.1"/>
<line x1="548.72" y1="536.40" x2="548.72" y2="538.40" stroke="#111" stroke-width="1.1"/>
<line x1="552.72" y1="536.40" x2="552.72" y2="538.40" stroke="#111" stroke-width="1.1"/>
<line x1="556.73" y1="536.40" x2="556.73" y2="539.80" stroke="#111" stroke-width="1.1"/>
<line x1="560.74" y1="536.40" x2="560.74" y2="538.40" stroke="#111" stroke-width="1.1"/>
<line x1="564.74" y1="536.40" x2="564.74" y2="538.40" stroke="#111" stroke-width="1.1"/>
<line x1="568.75" y1="536.40" x2="568.75" y2="538.40" stroke="#111" stroke-width="1.1"/>
<line x1="572.75" y1="536.40" x2="572.75" y2="538.40" stroke="#111" stroke-width="1.1"/>
<line x1="576.76" y1="536.40" x2="576.76" y2="539.80" stroke="#111" stroke-width="1.1"/>
<line x1="580.77" y1="536.40" x2="580.77" y2="538.40" stroke="#111" stroke-width="1.1"/>
<line x1="584.77" y1="536.40" x2="584.77" y2="538.40" stroke="#111" stroke-width="1.1"/>
<line x1="588.78" y1="536.40" x2="588.78" y2="538.40" stroke="#111" stroke-width="1.1"/>
<line x1="592.78" y1="536.40" x2="592.78" y2="538.40" stroke="#111" stroke-width="1.1"/>
<line x1="596.79" y1="536.40" x2="596.79" y2="539.80" stroke="#111" stroke-width="1.1"/>
<line x1="600.80" y1="536.40" x2="600.80" y2="538.40" stroke="#111" stroke-width="1.1"/>
<line x1="604.80" y1="536.40" x2="604.80" y2="538.40" stroke="#111" stroke-width="1.1"/>
<line x1="608.81" y1="536.40" x2="608.81" y2="538.40" stroke="#111" stroke-width="1.1"/>
<line x1="612.81" y1="536.40" x2="612.81" y2="538.40" stroke="#111" stroke-width="1.1"/>
<line x1="616.82" y1="536.40" x2="616.82" y2="542.00" stroke="#111" stroke-width="1.1"/>
<line x1="620.83" y1="536.40" x2="620.83" y2="538.40" stroke="#111" stroke-width="1.1"/>
<line x1="624.83" y1="536.40" x2="624.83" y2="538.40" stroke="#111" stroke-width="1.1"/>
<line x1="628.84" y1="536.40" x2="628.84" y2="538.40" stroke="#111" stroke-width="1.1"/>
<line x1="632.84" y1="536.40" x2="632.84" y2="538.40" stroke="#111" stroke-width="1.1"/>
<line x1="636.85" y1="536.40" x2="636.85" y2="539.80" stroke="#111" stroke-width="1.1"/>
<line x1="640.86" y1="536.40" x2="640.86" y2="538.40" stroke="#111" stroke-width="1.1"/>
<line x1="644.86" y1="536.40" x2="644.86" y2="538.40" stroke="#111" stroke-width="1.1"/>
<line x1="648.87" y1="536.40" x2="648.87" y2="538.40" stroke="#111" stroke-width="1.1"/>
<line x1="652.87" y1="536.40" x2="652.87" y2="538.40" stroke="#111" stroke-width="1.1"/>
<line x1="656.88" y1="536.40" x2="656.88" y2="539.80" stroke="#111" stroke-width="1.1"/>
<line x1="660.89" y1="536.40" x2="660.89" y2="538.40" stroke="#111" stroke-width="1.1"/>
<line x1="664.89" y1="536.40" x2="664.89" y2="538.40" stroke="#111" stroke-width="1.1"/>
<line x1="668.90" y1="536.40" x2="668.90" y2="538.40" stroke="#111" stroke-width="1.1"/>
<line x1="672.90" y1="536.40" x2="672.90" y2="538.40" stroke="#111" stroke-width="1.1"/>
<line x1="676.91" y1="536.40" x2="676.91" y2="539.80" stroke="#111" stroke-width="1.1"/>
<text transform="translate(136.30,552.51) scale(1.0,1)" font-family="Liberation Sans" font-weight="bold" font-size="8.4" fill="#2a2a2a" text-anchor="middle" textLength="6.20" lengthAdjust="spacingAndGlyphs">4</text>
<text transform="translate(216.60,552.51) scale(1.0,1)" font-family="Liberation Sans" font-weight="bold" font-size="8.4" fill="#2a2a2a" text-anchor="middle" textLength="6.20" lengthAdjust="spacingAndGlyphs">6</text>
<text transform="translate(297.30,552.51) scale(1.0,1)" font-family="Liberation Sans" font-weight="bold" font-size="8.4" fill="#2a2a2a" text-anchor="middle" textLength="6.20" lengthAdjust="spacingAndGlyphs">8</text>
<text transform="translate(379.10,552.51) scale(1.0,1)" font-family="Liberation Sans" font-weight="bold" font-size="8.4" fill="#2a2a2a" text-anchor="middle" textLength="14.30" lengthAdjust="spacingAndGlyphs">10</text>
<text transform="translate(457.90,552.51) scale(1.0,1)" font-family="Liberation Sans" font-weight="bold" font-size="8.4" fill="#2a2a2a" text-anchor="middle" textLength="14.30" lengthAdjust="spacingAndGlyphs">12</text>
<text transform="translate(537.60,552.51) scale(1.0,1)" font-family="Liberation Sans" font-weight="bold" font-size="8.4" fill="#2a2a2a" text-anchor="middle" textLength="14.30" lengthAdjust="spacingAndGlyphs">14</text>
<text transform="translate(617.20,552.51) scale(1.0,1)" font-family="Liberation Sans" font-weight="bold" font-size="8.4" fill="#2a2a2a" text-anchor="middle" textLength="14.30" lengthAdjust="spacingAndGlyphs">16</text>
<line x1="76.10" y1="293.30" x2="76.10" y2="537.00" stroke="#111" stroke-width="1.6"/>
<line x1="75.30" y1="536.40" x2="679.50" y2="536.40" stroke="#111" stroke-width="1.4"/>
<text transform="translate(19.90,121.80) rotate(-90) translate(0,3.72) scale(1.0,1)" font-family="Liberation Sans" font-weight="bold" font-size="10.4" fill="#2a2a2a" text-anchor="middle" textLength="15.70" lengthAdjust="spacingAndGlyphs">uAU</text>
<text transform="translate(10.60,414.90) rotate(-90) translate(0,4.40) scale(1.0,1)" font-family="Liberation Sans" font-weight="bold" font-size="12.3" fill="#2a2a2a" text-anchor="middle" textLength="15.80" lengthAdjust="spacingAndGlyphs">uAU</text>
<text transform="translate(384.00,274.38) scale(1.0,1)" font-family="Liberation Sans" font-weight="bold" font-size="8.6" fill="#2a2a2a" text-anchor="middle" textLength="64.00" lengthAdjust="spacingAndGlyphs">Time (min)</text>
<text transform="translate(380.00,566.98) scale(1.0,1)" font-family="Liberation Sans" font-weight="bold" font-size="8.6" fill="#2a2a2a" text-anchor="middle" textLength="63.00" lengthAdjust="spacingAndGlyphs">Time (min)</text>
<text x="572.4" y="30.8" font-family="Liberation Serif" font-weight="bold" font-size="12" fill="#222" textLength="53.4" lengthAdjust="spacingAndGlyphs">Pruning</text>
<text x="545.4" y="315.8" font-family="Liberation Serif" font-weight="bold" font-size="11.2" fill="#111" textLength="55.5" lengthAdjust="spacingAndGlyphs">Control</text>
<path d="M74.00,219.40 C74.57,219.20 76.23,219.33 77.40,218.20 C78.57,217.07 79.78,214.30 81.00,212.60 C82.22,210.90 83.62,209.53 84.70,208.00 C85.78,206.47 86.73,205.53 87.50,203.40 C88.27,201.27 88.78,198.42 89.30,195.20 C89.82,191.98 90.20,188.40 90.60,184.10 C91.00,179.80 91.37,173.83 91.70,169.40 C92.03,164.97 92.32,160.10 92.60,157.50 C92.88,154.90 93.12,154.27 93.40,153.80 C93.68,153.33 93.97,153.02 94.30,154.70 C94.63,156.38 95.00,160.22 95.40,163.90 C95.80,167.58 96.18,172.20 96.70,176.80 C97.22,181.40 97.90,186.30 98.50,191.50 C99.10,196.70 99.68,203.10 100.30,208.00 C100.92,212.90 101.58,217.52 102.20,220.90 C102.82,224.28 103.23,226.70 104.00,228.30 C104.77,229.90 105.42,230.10 106.80,230.50 C108.18,230.90 110.62,230.92 112.30,230.70 C113.98,230.48 115.52,229.92 116.90,229.20 C118.28,228.48 119.53,227.10 120.60,226.40 C121.67,225.70 122.38,225.05 123.30,225.00 C124.22,224.95 125.02,225.80 126.10,226.10 C127.18,226.40 128.58,227.12 129.80,226.80 C131.02,226.48 132.18,225.12 133.40,224.20 C134.62,223.28 136.17,221.70 137.10,221.30 C138.03,220.90 138.38,220.95 139.00,221.80 C139.62,222.65 140.03,224.87 140.80,226.40 C141.57,227.93 142.53,229.92 143.60,231.00 C144.67,232.08 146.23,232.60 147.20,232.90 C148.17,233.20 148.30,232.93 149.40,232.80 C150.50,232.67 152.35,232.10 153.80,232.10 C155.25,232.10 156.65,232.60 158.10,232.80 C159.55,233.00 161.03,233.53 162.50,233.30 C163.97,233.07 165.57,231.92 166.90,231.40 C168.23,230.88 169.40,230.25 170.50,230.20 C171.60,230.15 172.52,230.67 173.50,231.10 C174.48,231.53 175.43,232.63 176.40,232.80 C177.37,232.97 178.45,232.13 179.30,232.10 C180.15,232.07 180.40,232.35 181.50,232.60 C182.60,232.85 184.20,233.27 185.90,233.60 C187.60,233.93 189.27,234.42 191.70,234.60 C194.13,234.78 198.07,234.63 200.50,234.70 C202.93,234.77 204.48,234.77 206.30,235.00 C208.12,235.23 209.70,236.10 211.40,236.10 C213.10,236.10 215.03,235.30 216.50,235.00 C217.97,234.70 219.03,234.58 220.20,234.30 C221.37,234.02 222.53,233.30 223.50,233.30 C224.47,233.30 224.97,233.82 226.00,234.30 C227.03,234.78 228.48,235.68 229.70,236.20 C230.92,236.72 231.85,237.18 233.30,237.40 C234.75,237.62 236.95,237.53 238.40,237.50 C239.85,237.47 240.52,237.25 242.00,237.20 C243.48,237.15 245.20,237.20 247.30,237.20 C249.40,237.20 252.17,237.07 254.60,237.20 C257.03,237.33 259.47,237.75 261.90,238.00 C264.33,238.25 267.02,238.67 269.20,238.70 C271.38,238.73 273.42,238.57 275.00,238.20 C276.58,237.83 277.48,237.12 278.70,236.50 C279.92,235.88 280.97,234.98 282.30,234.50 C283.63,234.02 285.35,233.70 286.70,233.60 C288.05,233.50 289.18,233.62 290.40,233.90 C291.62,234.18 292.78,234.58 294.00,235.30 C295.22,236.02 296.48,237.52 297.70,238.20 C298.92,238.88 299.48,239.20 301.30,239.40 C303.12,239.60 306.40,239.35 308.60,239.40 C310.80,239.45 312.80,239.55 314.50,239.70 C316.20,239.85 317.23,240.30 318.80,240.30 C320.37,240.30 321.95,239.90 323.90,239.70 C325.85,239.50 328.32,239.28 330.50,239.10 C332.68,238.92 335.03,238.78 337.00,238.60 C338.97,238.42 340.20,238.27 342.30,238.00 C344.40,237.73 346.43,237.27 349.60,237.00 C352.77,236.73 357.65,236.68 361.30,236.40 C364.95,236.12 367.85,235.67 371.50,235.30 C375.15,234.93 380.03,234.53 383.20,234.20 C386.37,233.87 387.83,233.65 390.50,233.30 C393.17,232.95 396.28,232.40 399.20,232.10 C402.12,231.80 405.80,231.67 408.00,231.50 C410.20,231.33 411.07,231.37 412.40,231.10 C413.73,230.83 415.03,230.22 416.00,229.90 C416.97,229.58 417.47,229.07 418.20,229.20 C418.93,229.33 419.42,230.02 420.40,230.70 C421.38,231.38 422.77,232.63 424.10,233.30 C425.43,233.97 427.08,234.42 428.40,234.70 C429.72,234.98 430.42,235.05 432.00,235.00 C433.58,234.95 436.05,234.72 437.90,234.40 C439.75,234.08 441.13,233.50 443.10,233.10 C445.07,232.70 447.50,232.33 449.70,232.00 C451.90,231.67 454.33,231.40 456.30,231.10 C458.27,230.80 460.18,230.27 461.50,230.20 C462.82,230.13 463.10,230.62 464.20,230.70 C465.30,230.78 467.02,230.97 468.10,230.70 C469.18,230.43 469.72,229.70 470.70,229.10 C471.68,228.50 472.78,227.53 474.00,227.10 C475.22,226.67 476.90,226.82 478.00,226.50 C479.10,226.18 479.73,225.75 480.60,225.20 C481.47,224.65 482.33,223.97 483.20,223.20 C484.07,222.43 484.92,221.70 485.80,220.60 C486.68,219.50 487.73,218.03 488.50,216.60 C489.27,215.17 489.87,213.42 490.40,212.00 C490.93,210.58 491.25,209.40 491.70,208.10 C492.15,206.80 492.65,205.12 493.10,204.20 C493.55,203.28 493.97,202.65 494.40,202.60 C494.83,202.55 495.27,203.60 495.70,203.90 C496.13,204.20 496.57,204.58 497.00,204.40 C497.43,204.22 497.87,203.60 498.30,202.80 C498.73,202.00 499.05,200.52 499.60,199.60 C500.15,198.68 501.05,197.30 501.60,197.30 C502.15,197.30 502.47,199.00 502.90,199.60 C503.33,200.20 503.77,200.90 504.20,200.90 C504.63,200.90 505.03,200.75 505.50,199.60 C505.97,198.45 506.50,196.10 507.00,194.00 C507.50,191.90 508.00,189.50 508.50,187.00 C509.00,184.50 509.55,181.50 510.00,179.00 C510.45,176.50 510.75,175.13 511.20,172.00 C511.65,168.87 512.22,165.18 512.70,160.20 C513.18,155.22 513.67,147.80 514.10,142.10 C514.53,136.40 514.87,131.85 515.30,126.00 C515.73,120.15 516.25,113.33 516.70,107.00 C517.15,100.67 517.47,94.40 518.00,88.00 C518.53,81.60 519.27,74.08 519.90,68.60 C520.53,63.12 521.23,58.17 521.80,55.10 C522.37,52.03 522.75,50.20 523.30,50.20 C523.85,50.20 524.48,52.03 525.10,55.10 C525.72,58.17 526.37,63.12 527.00,68.60 C527.63,74.08 528.37,81.60 528.90,88.00 C529.43,94.40 529.82,100.33 530.20,107.00 C530.58,113.67 530.90,122.17 531.20,128.00 C531.50,133.83 531.73,137.50 532.00,142.00 C532.27,146.50 532.55,150.33 532.80,155.00 C533.05,159.67 533.25,165.33 533.50,170.00 C533.75,174.67 534.03,178.67 534.30,183.00 C534.57,187.33 534.73,192.33 535.10,196.00 C535.47,199.67 535.97,202.50 536.50,205.00 C537.03,207.50 537.67,209.23 538.30,211.00 C538.93,212.77 539.47,214.42 540.30,215.60 C541.13,216.78 542.30,217.93 543.30,218.10 C544.30,218.27 545.28,217.85 546.30,216.60 C547.32,215.35 548.45,213.12 549.40,210.60 C550.35,208.08 551.23,203.62 552.00,201.50 C552.77,199.38 553.33,198.23 554.00,197.90 C554.67,197.57 555.27,198.22 556.00,199.50 C556.73,200.78 557.48,203.82 558.40,205.60 C559.32,207.38 560.48,209.10 561.50,210.20 C562.52,211.30 563.67,212.13 564.50,212.20 C565.33,212.27 565.90,212.55 566.50,210.60 C567.10,208.65 567.60,204.20 568.10,200.50 C568.60,196.80 569.10,191.92 569.50,188.40 C569.90,184.88 570.07,181.23 570.50,179.40 C570.93,177.57 571.58,177.57 572.10,177.40 C572.62,177.23 573.12,178.58 573.60,178.40 C574.08,178.22 574.57,178.32 575.00,176.30 C575.43,174.28 575.82,170.68 576.20,166.30 C576.58,161.92 576.95,155.12 577.30,150.00 C577.65,144.88 577.93,142.03 578.30,135.60 C578.67,129.17 579.08,119.12 579.50,111.40 C579.92,103.68 580.35,94.17 580.80,89.30 C581.25,84.43 581.70,82.20 582.20,82.20 C582.70,82.20 583.30,84.43 583.80,89.30 C584.30,94.17 584.80,103.68 585.20,111.40 C585.60,119.12 585.90,128.20 586.20,135.60 C586.50,143.00 586.77,150.07 587.00,155.80 C587.23,161.53 587.45,165.58 587.60,170.00 C587.75,174.42 587.73,177.77 587.90,182.30 C588.07,186.83 588.37,192.98 588.60,197.20 C588.83,201.42 588.93,204.62 589.30,207.60 C589.67,210.58 590.17,213.37 590.80,215.10 C591.43,216.83 592.35,217.77 593.10,218.00 C593.85,218.23 594.57,217.73 595.30,216.50 C596.03,215.27 596.75,212.33 597.50,210.60 C598.25,208.87 599.13,206.35 599.80,206.10 C600.47,205.85 600.88,207.37 601.50,209.10 C602.12,210.83 602.85,214.77 603.50,216.50 C604.15,218.23 604.78,219.73 605.40,219.50 C606.02,219.27 606.60,217.33 607.20,215.10 C607.80,212.87 608.45,207.85 609.00,206.10 C609.55,204.35 610.00,204.35 610.50,204.60 C611.00,204.85 611.50,205.62 612.00,207.60 C612.50,209.58 612.93,213.77 613.50,216.50 C614.07,219.23 614.47,222.13 615.40,224.00 C616.33,225.87 617.87,226.83 619.10,227.70 C620.33,228.57 621.57,229.02 622.80,229.20 C624.03,229.38 625.38,228.92 626.50,228.80 C627.62,228.68 628.50,228.32 629.50,228.50 C630.50,228.68 631.25,229.47 632.50,229.90 C633.75,230.33 635.27,230.47 637.00,231.10 C638.73,231.73 641.17,233.03 642.90,233.70 C644.63,234.37 646.03,234.62 647.40,235.10 C648.77,235.58 649.92,236.17 651.10,236.60 C652.28,237.03 653.93,237.52 654.50,237.70" fill="none" stroke="#828282" stroke-width="1.6" stroke-linejoin="round" stroke-linecap="round"/>
<path d="M76.60,515.30 C76.83,514.80 77.52,513.77 78.00,512.30 C78.48,510.83 79.02,508.68 79.50,506.50 C79.98,504.32 80.42,501.38 80.90,499.20 C81.38,497.02 81.90,494.73 82.40,493.40 C82.90,492.07 83.42,491.45 83.90,491.20 C84.38,490.95 84.82,490.82 85.30,491.90 C85.78,492.98 86.32,496.12 86.80,497.70 C87.28,499.28 87.60,500.05 88.20,501.40 C88.80,502.75 89.78,504.10 90.40,505.80 C91.02,507.50 91.40,509.30 91.90,511.60 C92.40,513.90 92.92,517.53 93.40,519.60 C93.88,521.67 94.20,523.02 94.80,524.00 C95.40,524.98 95.90,525.25 97.00,525.50 C98.10,525.75 100.18,525.70 101.40,525.50 C102.62,525.30 103.45,524.67 104.30,524.30 C105.15,523.93 105.65,523.40 106.50,523.30 C107.35,523.20 108.30,523.53 109.40,523.70 C110.50,523.87 111.88,524.62 113.10,524.30 C114.32,523.98 115.48,522.63 116.70,521.80 C117.92,520.97 119.42,519.67 120.40,519.30 C121.38,518.93 121.75,519.18 122.60,519.60 C123.45,520.02 124.28,520.95 125.50,521.80 C126.72,522.65 128.32,523.90 129.90,524.70 C131.48,525.50 133.30,526.23 135.00,526.60 C136.70,526.97 138.28,526.93 140.10,526.90 C141.92,526.87 143.95,526.52 145.90,526.40 C147.85,526.28 150.10,526.48 151.80,526.20 C153.50,525.92 154.77,525.30 156.10,524.70 C157.43,524.10 158.82,523.08 159.80,522.60 C160.78,522.12 161.27,521.68 162.00,521.80 C162.73,521.92 163.35,522.57 164.20,523.30 C165.05,524.03 166.13,525.55 167.10,526.20 C168.07,526.85 168.88,527.02 170.00,527.20 C171.12,527.38 172.20,527.08 173.80,527.30 C175.40,527.52 177.42,528.12 179.60,528.50 C181.78,528.88 184.47,529.37 186.90,529.60 C189.33,529.83 192.02,529.97 194.20,529.90 C196.38,529.83 198.30,529.43 200.00,529.20 C201.70,528.97 203.18,528.87 204.40,528.50 C205.62,528.13 206.32,527.37 207.30,527.00 C208.28,526.63 209.45,526.23 210.30,526.30 C211.15,526.37 211.55,526.80 212.40,527.40 C213.25,528.00 214.30,529.23 215.40,529.90 C216.50,530.57 216.57,531.15 219.00,531.40 C221.43,531.65 226.17,531.42 230.00,531.40 C233.83,531.38 238.33,531.28 242.00,531.30 C245.67,531.32 249.67,531.40 252.00,531.50 C254.33,531.60 254.67,531.77 256.00,531.90 C257.33,532.03 258.50,532.22 260.00,532.30 C261.50,532.38 263.33,532.42 265.00,532.40 C266.67,532.38 268.50,532.33 270.00,532.20 C271.50,532.07 272.33,531.75 274.00,531.60 C275.67,531.45 277.47,531.35 280.00,531.30 C282.53,531.25 285.03,531.30 289.20,531.30 C293.37,531.30 299.87,531.33 305.00,531.30 C310.13,531.27 315.00,531.17 320.00,531.10 C325.00,531.03 330.83,531.05 335.00,530.90 C339.17,530.75 340.83,530.50 345.00,530.20 C349.17,529.90 355.00,529.48 360.00,529.10 C365.00,528.72 370.17,528.30 375.00,527.90 C379.83,527.50 384.83,526.97 389.00,526.70 C393.17,526.43 395.67,526.38 400.00,526.30 C404.33,526.22 410.33,526.25 415.00,526.20 C419.67,526.15 423.83,526.17 428.00,526.00 C432.17,525.83 436.67,525.37 440.00,525.20 C443.33,525.03 445.83,525.10 448.00,525.00 C450.17,524.90 451.58,524.87 453.00,524.60 C454.42,524.33 455.20,523.72 456.50,523.40 C457.80,523.08 459.27,522.98 460.80,522.70 C462.33,522.42 464.27,522.12 465.70,521.70 C467.13,521.28 468.37,520.95 469.40,520.20 C470.43,519.45 471.08,518.32 471.90,517.20 C472.72,516.08 473.60,514.73 474.30,513.50 C475.00,512.27 475.58,510.32 476.10,509.80 C476.62,509.28 476.92,510.13 477.40,510.40 C477.88,510.67 478.50,511.60 479.00,511.40 C479.50,511.20 479.85,510.58 480.40,509.20 C480.95,507.82 481.78,504.37 482.30,503.10 C482.82,501.83 483.10,501.30 483.50,501.60 C483.90,501.90 484.23,503.67 484.70,504.90 C485.17,506.13 485.83,508.18 486.30,509.00 C486.77,509.82 487.05,510.17 487.50,509.80 C487.95,509.43 488.37,508.33 489.00,506.80 C489.63,505.27 490.57,502.65 491.30,500.60 C492.03,498.55 492.73,496.77 493.40,494.50 C494.07,492.23 494.82,489.42 495.30,487.00 C495.78,484.58 496.02,482.17 496.30,480.00 C496.58,477.83 496.73,476.50 497.00,474.00 C497.27,471.50 497.53,467.97 497.90,465.00 C498.27,462.03 498.77,459.12 499.20,456.20 C499.63,453.28 500.00,450.27 500.50,447.50 C501.00,444.73 501.68,441.35 502.20,439.60 C502.72,437.85 503.08,437.60 503.60,437.00 C504.12,436.40 504.77,436.00 505.30,436.00 C505.83,436.00 506.37,436.40 506.80,437.00 C507.23,437.60 507.42,437.85 507.90,439.60 C508.38,441.35 509.12,444.73 509.70,447.50 C510.28,450.27 510.92,453.28 511.40,456.20 C511.88,459.12 512.23,461.78 512.60,465.00 C512.97,468.22 513.38,473.00 513.60,475.50 C513.82,478.00 513.77,478.25 513.90,480.00 C514.03,481.75 514.10,482.72 514.40,486.00 C514.70,489.28 515.20,495.43 515.70,499.70 C516.20,503.97 516.73,508.37 517.40,511.60 C518.07,514.83 518.82,517.23 519.70,519.10 C520.58,520.97 521.72,522.07 522.70,522.80 C523.68,523.53 524.62,523.68 525.60,523.50 C526.58,523.32 527.48,522.38 528.60,521.70 C529.72,521.02 531.18,519.72 532.30,519.40 C533.42,519.08 534.30,519.37 535.30,519.80 C536.30,520.23 537.30,521.43 538.30,522.00 C539.30,522.57 540.18,523.20 541.30,523.20 C542.42,523.20 543.88,522.93 545.00,522.00 C546.12,521.07 547.13,519.83 548.00,517.60 C548.87,515.37 549.37,511.53 550.20,508.60 C551.03,505.67 552.28,502.27 553.00,500.00 C553.72,497.73 553.97,497.00 554.50,495.00 C555.03,493.00 555.68,490.33 556.20,488.00 C556.72,485.67 557.13,483.33 557.60,481.00 C558.07,478.67 558.57,475.67 559.00,474.00 C559.43,472.33 559.83,471.70 560.20,471.00 C560.57,470.30 560.87,469.83 561.20,469.80 C561.53,469.77 561.92,470.30 562.20,470.80 C562.48,471.30 562.62,471.10 562.90,472.80 C563.18,474.50 563.55,478.47 563.90,481.00 C564.25,483.53 564.65,485.67 565.00,488.00 C565.35,490.33 565.72,493.00 566.00,495.00 C566.28,497.00 566.47,498.47 566.70,500.00 C566.93,501.53 567.05,501.77 567.40,504.20 C567.75,506.63 568.18,511.38 568.80,514.60 C569.42,517.82 570.32,521.52 571.10,523.50 C571.88,525.48 572.72,525.90 573.50,526.50 C574.28,527.10 574.92,527.25 575.80,527.10 C576.68,526.95 577.82,526.18 578.80,525.60 C579.78,525.02 580.83,523.68 581.70,523.60 C582.57,523.52 583.13,524.62 584.00,525.10 C584.87,525.58 586.02,526.42 586.90,526.50 C587.78,526.58 588.52,526.08 589.30,525.60 C590.08,525.12 590.92,524.08 591.60,523.60 C592.28,523.12 592.87,522.60 593.40,522.70 C593.93,522.80 594.42,523.47 594.80,524.20 C595.18,524.93 595.27,526.22 595.70,527.10 C596.13,527.98 596.62,528.85 597.40,529.50 C598.18,530.15 599.13,530.68 600.40,531.00 C601.67,531.32 603.25,531.27 605.00,531.40 C606.75,531.53 608.95,531.63 610.90,531.80 C612.85,531.97 614.95,532.30 616.70,532.40 C618.45,532.50 619.65,532.30 621.40,532.40 C623.15,532.50 626.23,532.90 627.20,533.00" fill="none" stroke="#787878" stroke-width="1.75" stroke-linejoin="round" stroke-linecap="round"/>
<line x1="183" y1="230.7" x2="187.5" y2="230.7" stroke="#d8d8d8" stroke-width="1"/>
<line x1="240" y1="235.6" x2="254" y2="235.6" stroke="#d0d0d0" stroke-width="1"/>
<line x1="261.5" y1="234.3" x2="263.5" y2="234.3" stroke="#c8c8c8" stroke-width="1"/>
<line x1="213" y1="522.3" x2="219" y2="522.3" stroke="#d0d0d0" stroke-width="1"/>
<line x1="221" y1="522.3" x2="223" y2="522.3" stroke="#d0d0d0" stroke-width="1"/>
<line x1="309" y1="527.4" x2="330" y2="527.4" stroke="#d8d8d8" stroke-width="1"/>
<line x1="368" y1="523.3" x2="370" y2="523.3" stroke="#c8c8c8" stroke-width="1"/>
<line x1="375.4" y1="523.3" x2="377" y2="523.3" stroke="#c8c8c8" stroke-width="1"/>
<line x1="438" y1="517.8" x2="441" y2="517.8" stroke="#cfcfcf" stroke-width="1"/>
<line x1="384" y1="524.4" x2="402" y2="524.4" stroke="#dcdcdc" stroke-width="1"/>
<line x1="516.5" y1="427.8" x2="521.5" y2="427.8" stroke="#e0e0e0" stroke-width="1"/>
<circle cx="498.3" cy="194.3" r="0.8" fill="#d4d4d4"/>
<circle cx="428.8" cy="226.3" r="0.8" fill="#d0d0d0"/>
<circle cx="652.7" cy="299.9" r="1" fill="#b8b8b8"/>
<circle cx="648.5" cy="528.5" r="0.8" fill="#e0e0e0"/>
<text transform="translate(93.00,145.39) scale(1.0,1)" font-family="Liberation Serif" font-weight="bold" font-size="8.2" fill="#222" text-anchor="middle" textLength="6.20" lengthAdjust="spacingAndGlyphs">1</text>
<text transform="translate(122.40,220.09) scale(1.0,1)" font-family="Liberation Serif" font-weight="bold" font-size="8.2" fill="#222" text-anchor="middle" textLength="6.20" lengthAdjust="spacingAndGlyphs">2</text>
<text transform="translate(171.00,226.29) scale(1.0,1)" font-family="Liberation Serif" font-weight="bold" font-size="8.2" fill="#222" text-anchor="middle" textLength="6.20" lengthAdjust="spacingAndGlyphs">3</text>
<text transform="translate(348.90,229.79) scale(1.0,1)" font-family="Liberation Serif" font-weight="bold" font-size="8.2" fill="#222" text-anchor="middle" textLength="6.20" lengthAdjust="spacingAndGlyphs">4</text>
<text transform="translate(479.30,205.39) scale(1.0,1)" font-family="Liberation Serif" font-weight="bold" font-size="8.2" fill="#222" text-anchor="middle" textLength="6.20" lengthAdjust="spacingAndGlyphs">5</text>
<text transform="translate(483.60,194.19) scale(1.0,1)" font-family="Liberation Serif" font-weight="bold" font-size="8.2" fill="#222" text-anchor="middle" textLength="6.20" lengthAdjust="spacingAndGlyphs">6</text>
<text transform="translate(493.10,194.19) scale(1.0,1)" font-family="Liberation Serif" font-weight="bold" font-size="8.2" fill="#222" text-anchor="middle" textLength="6.20" lengthAdjust="spacingAndGlyphs">7</text>
<text transform="translate(502.00,87.19) scale(1.0,1)" font-family="Liberation Serif" font-weight="bold" font-size="8.2" fill="#222" text-anchor="middle" textLength="6.20" lengthAdjust="spacingAndGlyphs">8</text>
<text transform="translate(522.60,44.49) scale(1.0,1)" font-family="Liberation Serif" font-weight="bold" font-size="8.2" fill="#222" text-anchor="middle" textLength="6.20" lengthAdjust="spacingAndGlyphs">9</text>
<text transform="translate(540.80,149.59) scale(1.0,1)" font-family="Liberation Serif" font-weight="bold" font-size="8.2" fill="#222" text-anchor="middle" textLength="11.70" lengthAdjust="spacingAndGlyphs">10</text>
<text transform="translate(555.20,193.69) scale(1.0,1)" font-family="Liberation Serif" font-weight="bold" font-size="8.2" fill="#222" text-anchor="middle" textLength="11.70" lengthAdjust="spacingAndGlyphs">11</text>
<text transform="translate(560.50,169.69) scale(1.0,1)" font-family="Liberation Serif" font-weight="bold" font-size="8.2" fill="#222" text-anchor="middle" textLength="11.70" lengthAdjust="spacingAndGlyphs">12</text>
<text transform="translate(564.10,109.39) scale(1.0,1)" font-family="Liberation Serif" font-weight="bold" font-size="8.2" fill="#222" text-anchor="middle" textLength="11.70" lengthAdjust="spacingAndGlyphs">13</text>
<text transform="translate(579.70,73.29) scale(1.0,1)" font-family="Liberation Serif" font-weight="bold" font-size="8.2" fill="#222" text-anchor="middle" textLength="11.70" lengthAdjust="spacingAndGlyphs">14</text>
<text transform="translate(601.30,197.69) scale(1.0,1)" font-family="Liberation Serif" font-weight="bold" font-size="8.2" fill="#222" text-anchor="middle" textLength="11.70" lengthAdjust="spacingAndGlyphs">15</text>
<text transform="translate(640.70,225.69) scale(1.0,1)" font-family="Liberation Serif" font-weight="bold" font-size="8.2" fill="#222" text-anchor="middle" textLength="11.70" lengthAdjust="spacingAndGlyphs">16</text>
<text transform="translate(83.90,484.56) scale(1.0,1)" font-family="Liberation Serif" font-weight="bold" font-size="8.4" fill="#222" text-anchor="middle" textLength="6.90" lengthAdjust="spacingAndGlyphs">1</text>
<text transform="translate(107.20,515.16) scale(1.0,1)" font-family="Liberation Serif" font-weight="bold" font-size="8.4" fill="#222" text-anchor="middle" textLength="6.90" lengthAdjust="spacingAndGlyphs">2</text>
<text transform="translate(159.80,515.16) scale(1.0,1)" font-family="Liberation Serif" font-weight="bold" font-size="8.4" fill="#222" text-anchor="middle" textLength="6.90" lengthAdjust="spacingAndGlyphs">3</text>
<text transform="translate(340.00,521.56) scale(1.0,1)" font-family="Liberation Serif" font-weight="bold" font-size="8.4" fill="#222" text-anchor="middle" textLength="6.90" lengthAdjust="spacingAndGlyphs">4</text>
<text transform="translate(465.10,508.96) scale(1.0,1)" font-family="Liberation Serif" font-weight="bold" font-size="8.4" fill="#222" text-anchor="middle" textLength="6.90" lengthAdjust="spacingAndGlyphs">5</text>
<text transform="translate(465.10,495.56) scale(1.0,1)" font-family="Liberation Serif" font-weight="bold" font-size="8.4" fill="#222" text-anchor="middle" textLength="6.90" lengthAdjust="spacingAndGlyphs">6</text>
<text transform="translate(477.40,495.16) scale(1.0,1)" font-family="Liberation Serif" font-weight="bold" font-size="8.4" fill="#222" text-anchor="middle" textLength="6.90" lengthAdjust="spacingAndGlyphs">7</text>
<text transform="translate(485.70,456.96) scale(1.0,1)" font-family="Liberation Serif" font-weight="bold" font-size="8.4" fill="#222" text-anchor="middle" textLength="6.90" lengthAdjust="spacingAndGlyphs">8</text>
<text transform="translate(505.20,427.36) scale(1.0,1)" font-family="Liberation Serif" font-weight="bold" font-size="8.4" fill="#222" text-anchor="middle" textLength="6.90" lengthAdjust="spacingAndGlyphs">9</text>
<text transform="translate(529.40,490.96) scale(1.0,1)" font-family="Liberation Serif" font-weight="bold" font-size="8.4" fill="#222" text-anchor="middle" textLength="14.40" lengthAdjust="spacingAndGlyphs">10</text>
<text transform="translate(532.30,515.26) scale(1.0,1)" font-family="Liberation Serif" font-weight="bold" font-size="8.4" fill="#222" text-anchor="middle" textLength="14.40" lengthAdjust="spacingAndGlyphs">11</text>
<text transform="translate(543.20,477.16) scale(1.0,1)" font-family="Liberation Serif" font-weight="bold" font-size="8.4" fill="#222" text-anchor="middle" textLength="14.40" lengthAdjust="spacingAndGlyphs">13</text>
<text transform="translate(563.60,462.36) scale(1.0,1)" font-family="Liberation Serif" font-weight="bold" font-size="8.4" fill="#222" text-anchor="middle" textLength="14.40" lengthAdjust="spacingAndGlyphs">14</text>
<text transform="translate(582.30,515.06) scale(1.0,1)" font-family="Liberation Serif" font-weight="bold" font-size="8.4" fill="#222" text-anchor="middle" textLength="14.40" lengthAdjust="spacingAndGlyphs">15</text>
<text transform="translate(624.90,527.06) scale(1.0,1)" font-family="Liberation Serif" font-weight="bold" font-size="8.4" fill="#222" text-anchor="middle" textLength="14.40" lengthAdjust="spacingAndGlyphs">16</text>
</svg>
</body></html>
